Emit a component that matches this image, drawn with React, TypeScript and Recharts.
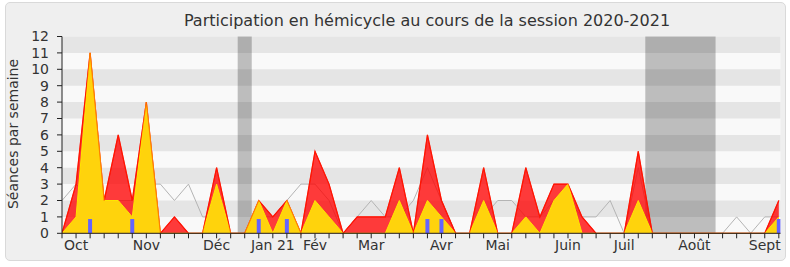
import React from 'react';
import { ComposedChart, Area, Line, Bar, XAxis, YAxis, ReferenceArea } from 'recharts';

// week index 0 = first week of the session
const weeks = [
  0, 1, 2, 3, 4, 5, 6, 7, 8, 9, 10, 11, 12, 13, 14, 15, 16, 17, 18, 19, 20, 21, 22, 23, 24, 25,
  26, 27, 28, 29, 30, 31, 32, 33, 34, 35, 36, 37, 38, 39, 40, 41, 42, 43, 44, 45, 46, 47, 48, 49, 50, 51,
];
const totalSessions = [
  0, 3, 11, 2, 6, 2, 8, 0, 1, 0, 0, 4, 0, 0, 2, 1, 2, 0, 5, 3, 0, 1, 1, 1, 4, 0,
  6, 2, 0, 0, 4, 0, 0, 4, 1, 3, 3, 1, 0, 0, 0, 5, 0, 0, 0, 0, 0, 0, 0, 0, 0, 2,
];
const hemicycleSessions = [
  0, 1, 11, 2, 2, 1, 8, 0, 0, 0, 0, 3, 0, 0, 2, 0, 2, 0, 2, 1, 0, 0, 0, 0, 2, 0,
  2, 1, 0, 0, 2, 0, 0, 1, 0, 2, 3, 0, 0, 0, 0, 2, 0, 0, 0, 0, 0, 0, 0, 0, 0, 1,
];
const medianSessions = [
  2, 3, 2, 2, 2, 2, 3, 3, 2, 3, 1, 1, 0, 0, 1, 1, 2, 3, 3, 2, 0, 1, 2, 1, 1, 2,
  4, 2, 0, 0, 1, 2, 2, 1, 1, 2, 2, 1, 1, 2, 0, 4, 0, 0, 0, 0, 0, 0, 1, 0, 1, 1,
];
const questionWeeks = [2, 5, 14, 16, 26, 27, 51];
const questionValue = 0.87;
const monthTickWeeks = [1, 6, 11, 15, 18, 22, 27, 31, 36, 40, 45, 50];
const monthNames = ['Oct', 'Nov', 'Déc', 'Jan 21', 'Fév', 'Mar', 'Avr', 'Mai', 'Juin', 'Juil', 'Août', 'Sept'];
const vacationWeeks = [
  [13, 13],
  [42, 46],
];
const yTicks = [0, 1, 2, 3, 4, 5, 6, 7, 8, 9, 10, 11, 12];
const xMax = 51.12;

const data = weeks.map((w, i) => ({
  week: w,
  total: totalSessions[i],
  hemi: hemicycleSessions[i],
  median: medianSessions[i],
  question: questionWeeks.includes(w) ? questionValue : null,
}));

const FONT = '"DejaVu Sans", Verdana, sans-serif';

const MonthTick = (props: any) => {
  const { x, y, payload } = props;
  const idx = monthTickWeeks.indexOf(payload.value);
  if (idx < 0) return <g />;
  return (
    <text x={x} y={y} dy="0.71em" textAnchor="middle" fill="#333" fontSize={14} fontFamily={FONT}>
      {monthNames[idx]}
    </text>
  );
};

const EmptyTick = () => <g />;

export default function App() {
  const darkBands = yTicks.filter((t) => t > 0 && t % 2 === 0).map((t) => [t - 1, t]);
  return (
    <div style={{ position: 'absolute', left: 0, top: 0, width: 790, height: 267, background: '#fff' }}>
      <div
        style={{
          position: 'absolute',
          left: 5,
          top: 2,
          width: 781,
          height: 259,
          boxSizing: 'border-box',
          border: '1px solid #d9d9d9',
          borderRadius: 5,
          background: '#efefef',
        }}
      />
      <div style={{ position: 'absolute', left: 0, top: 0 }}>
        <ComposedChart
          width={790}
          height={267}
          data={data}
          margin={{ top: 36.5, right: 9.5, left: 0, bottom: 8.7 }}
        >
          <XAxis
            dataKey="week"
            type="number"
            domain={[0, xMax]}
            ticks={weeks}
            interval={0}
            allowDataOverflow
            height={25}
            tickSize={5}
            tickMargin={2}
            axisLine={{ stroke: '#222' }}
            tickLine={{ stroke: '#222' }}
            tick={<MonthTick />}
          />
          <XAxis
            xAxisId="top"
            dataKey="week"
            type="number"
            orientation="top"
            domain={[0, xMax]}
            ticks={weeks}
            interval={0}
            allowDataOverflow
            height={0}
            tickSize={2}
            axisLine={false}
            tickLine={{ stroke: '#000' }}
            tick={<EmptyTick />}
          />
          <YAxis
            type="number"
            domain={[0, 12]}
            ticks={yTicks}
            interval={0}
            width={62}
            tickSize={5}
            tickMargin={8}
            axisLine={{ stroke: '#222' }}
            tickLine={{ stroke: '#222' }}
            tick={{ fill: '#333', fontSize: 14, fontFamily: FONT }}
          />
          <ReferenceArea y1={0} y2={12} fill="#f9f9f9" fillOpacity={1} stroke="none" zIndex={-30} ifOverflow="visible" />
          {darkBands.map(([a, b]) => (
            <ReferenceArea key={'b' + a} y1={a} y2={b} fill="#e5e5e5" fillOpacity={1} stroke="none" zIndex={-20} />
          ))}
          {vacationWeeks.map(([a, b]) => (
            <ReferenceArea
              key={'v' + a}
              x1={a - 0.5}
              x2={b + 0.5}
              fill="#000"
              fillOpacity={0.24}
              stroke="none"
              zIndex={-10}
            />
          ))}
          <Line
            dataKey="median"
            type="linear"
            stroke="#b4b4b4"
            strokeWidth={1}
            dot={false}
            activeDot={false}
            isAnimationActive={false}
            zIndex={10}
          />
          <Area
            dataKey="total"
            type="linear"
            fill="#ff0000"
            fillOpacity={0.77}
            stroke="#ff0000"
            strokeWidth={1.2}
            dot={false}
            activeDot={false}
            isAnimationActive={false}
            zIndex={100}
          />
          <Area
            dataKey="hemi"
            type="linear"
            fill="#ffd30c"
            fillOpacity={1}
            stroke="#ffe600"
            strokeWidth={1}
            dot={false}
            activeDot={false}
            isAnimationActive={false}
            zIndex={101}
          />
          <Line
            dataKey="total"
            type="linear"
            stroke="#ff2a00"
            strokeOpacity={0.55}
            strokeWidth={1}
            dot={false}
            activeDot={false}
            isAnimationActive={false}
            zIndex={102}
          />
          <Bar dataKey="question" fill="#6464ff" barSize={4} isAnimationActive={false} zIndex={300} />
        </ComposedChart>
      </div>
      <svg
        width={790}
        height={267}
        style={{ position: 'absolute', left: 0, top: 0, pointerEvents: 'none' }}
      >
        <text x={427} y={26} textAnchor="middle" fill="#333" fontSize={16} fontFamily={FONT}>
          Participation en hémicycle au cours de la session 2020-2021
        </text>
        <text
          x={0}
          y={0}
          transform="translate(18,134) rotate(-90)"
          textAnchor="middle"
          fill="#333"
          fontSize={14}
          fontFamily={FONT}
        >
          Séances par semaine
        </text>
      </svg>
    </div>
  );
}
